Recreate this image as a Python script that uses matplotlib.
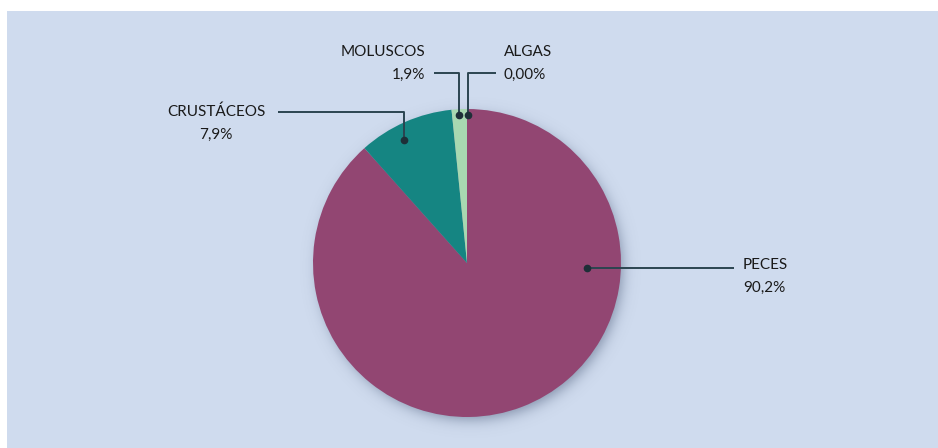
import numpy as np
import matplotlib
matplotlib.use("Agg")
import matplotlib.pyplot as plt
from matplotlib.patches import Rectangle

# data (wedge sizes as drawn in the picture; labels as printed)
categories = ["PECES", "CRUSTÁCEOS", "MOLUSCOS", "ALGAS"]
shares = [88.4, 10.0, 1.6, 0.0]
share_labels = ["90,2%", "7,9%", "1,9%", "0,00%"]
colors = ["#924672", "#158582", "#a8d8b1", "#6fb98f"]

plt.rcParams["font.family"] = ["Lato", "DejaVu Sans"]

W, H = 938, 448
fig = plt.figure(figsize=(W / 100, H / 100), dpi=100)
fig.patch.set_facecolor("white")

# axes in pixel units (y up)
ax = fig.add_axes([0, 0, 1, 1])
ax.patch.set_visible(False)
ax.add_patch(Rectangle((7, 0), W - 7, H - 11, facecolor="#cfdbee",
                       edgecolor="none", zorder=0))

cx, cy, R = 467, H - 263, 154

# soft drop shadow
gx, gy = np.meshgrid(np.arange(250, 700), np.arange(0, 400))
d = np.hypot(gx - (cx + 3), gy - (cy - 5)) - R
alpha = 0.45 / (1 + np.exp((d + 2) / 4.0))
shadow = np.zeros(gx.shape + (4,))
shadow[..., 0] = 0.16
shadow[..., 1] = 0.22
shadow[..., 2] = 0.35
shadow[..., 3] = alpha
ax.imshow(shadow, extent=(250, 700, 0, 400), origin="lower", zorder=1,
          interpolation="bilinear")

wedges, _ = ax.pie(shares, colors=colors, startangle=90, counterclock=False,
                   center=(cx, cy), radius=R, frame=True,
                   wedgeprops=dict(linewidth=0, zorder=2))
ax.set_xlim(0, W)
ax.set_ylim(0, H)
ax.set_aspect("equal")
ax.set_axis_off()

# label layout: anchor angle (deg), anchor radius frac, path / text (px, y down)
line_col = "#2b4450"
layout = {
    "PECES":      dict(ang=-2.4, rf=0.78, path=[(734, 268)], txt=(743, 265), ha="left"),
    "CRUSTÁCEOS": dict(ang=117.0, rf=0.90, path=[(404, 112), (278, 112)], txt=(216, 112), ha="center"),
    "MOLUSCOS":   dict(ang=93.1, rf=0.96, path=[(459, 73), (434, 73)], txt=(425, 52), ha="right"),
    "ALGAS":      dict(ang=89.8, rf=0.96, path=[(467.5, 73), (496, 73)], txt=(504, 52), ha="left"),
}

for name, lab in zip(categories, share_labels):
    L = layout[name]
    a = np.deg2rad(L["ang"])
    px = cx + L["rf"] * R * np.cos(a)
    py = cy + L["rf"] * R * np.sin(a)
    xs = [px] + [p[0] for p in L["path"]]
    ys = [py] + [H - p[1] for p in L["path"]]
    if name == "PECES":
        ys = [py, py]
    else:
        xs[1] = px
    ax.plot(xs, ys, color=line_col, lw=1.4, zorder=4, solid_capstyle="butt")
    ax.plot(px, py, "o", color="#1e2f38", ms=4.5, zorder=5)
    tx, ty = L["txt"]
    ax.text(tx, H - ty, name, ha=L["ha"], va="center", fontsize=11, color="#1a1a1a")
    ax.text(tx, H - ty - 23, lab, ha=L["ha"], va="center", fontsize=11, color="#1a1a1a")

fig.savefig("out.png", dpi=100)
